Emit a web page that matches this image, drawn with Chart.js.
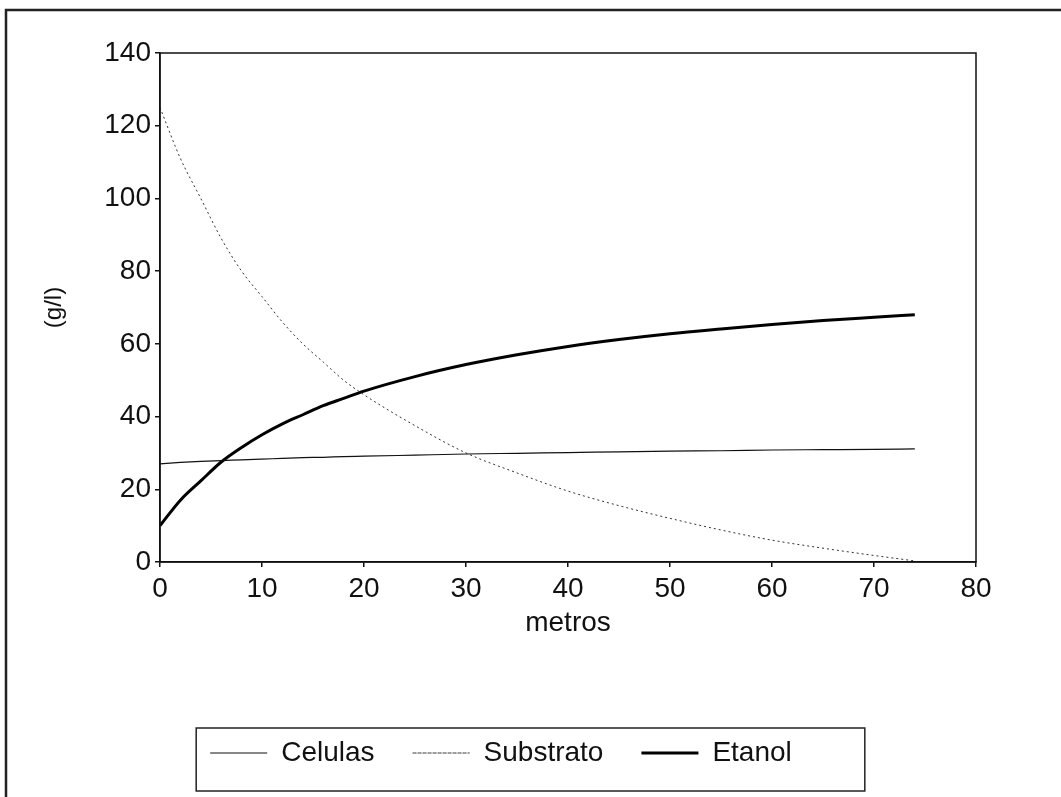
<!DOCTYPE html>
<html>
<head>
<meta charset="utf-8">
<script src="https://cdn.jsdelivr.net/npm/chart.js@4.4.1/dist/chart.umd.min.js"></script>
<style>
  html, body { margin: 0; padding: 0; background: #fff; }
  #wrap { width: 1061px; height: 797px; position: relative; }
</style>
</head>
<body>
<div id="wrap"><canvas id="c" width="1061" height="797"></canvas></div>
<script>
const metros    = [0, 2, 4, 6, 8, 10, 12, 14, 16, 18, 20, 25, 30, 35, 40, 45, 50, 55, 60, 65, 70, 74];
const celulas   = [27.0, 27.4, 27.7, 27.9, 28.1, 28.3, 28.5, 28.7, 28.8, 29.0, 29.1, 29.4, 29.7, 29.9, 30.1, 30.3, 30.5, 30.6, 30.8, 30.9, 31.0, 31.1];
const substrato = [125, 111, 100, 89, 80, 73, 66, 60, 55, 50, 46, 37.5, 30.0, 24.5, 19.5, 15.5, 12, 8.8, 6, 3.8, 1.8, 0.3];
const etanol    = [10, 17, 22.3, 27.5, 31.5, 35, 38, 40.5, 43, 45, 47, 51, 54.3, 57, 59.3, 61.2, 62.8, 64.1, 65.3, 66.4, 67.3, 68];
const seriesNames = ['Celulas', 'Substrato', 'Etanol'];
const xTicks = [0, 10, 20, 30, 40, 50, 60, 70, 80];
const yTicks = [0, 20, 40, 60, 80, 100, 120, 140];

const FONT = '"Liberation Sans", Arial, Helvetica, sans-serif';
const toPts = (ys) => metros.map((x, i) => ({x: x, y: ys[i]}));

const framePlugin = {
  id: 'frames',
  beforeDraw(chart) {
    const ctx = chart.ctx;
    ctx.save();
    ctx.fillStyle = '#fff';
    ctx.fillRect(0, 0, chart.width, chart.height);
    ctx.strokeStyle = '#222';
    ctx.lineWidth = 2.5;
    ctx.beginPath();
    ctx.moveTo(6, chart.height + 5);
    ctx.lineTo(6, 10);
    ctx.lineTo(chart.width + 5, 10);
    ctx.stroke();
    ctx.restore();
  },
  afterDatasetsDraw(chart) {
    const a = chart.chartArea, ctx = chart.ctx;
    ctx.save();
    ctx.strokeStyle = '#111';
    ctx.lineWidth = 1.5;
    ctx.strokeRect(a.left, a.top, a.right - a.left, a.bottom - a.top);
    ctx.restore();
  },
  afterDraw(chart) {
    const lg = chart.legend;
    if (!lg || !lg.legendHitBoxes || !lg.legendHitBoxes.length) return;
    const hb = lg.legendHitBoxes;
    const l = Math.min(...hb.map(h => h.left)) - 14;
    const r = Math.max(...hb.map(h => h.left + h.width)) + 73;
    const t = Math.min(...hb.map(h => h.top)) - 11;
    const b = Math.max(...hb.map(h => h.top + h.height)) + 24;
    const ctx = chart.ctx;
    ctx.save();
    ctx.strokeStyle = '#222';
    ctx.lineWidth = 1.5;
    ctx.strokeRect(l, t, r - l, b - t);
    ctx.restore();
  }
};

new Chart(document.getElementById('c'), {
  type: 'line',
  data: {
    datasets: [
      { label: seriesNames[0], data: toPts(celulas), borderColor: '#111', backgroundColor: 'rgba(0,0,0,0)', borderWidth: 1.2, pointRadius: 0, cubicInterpolationMode: 'monotone' },
      { label: seriesNames[1], data: toPts(substrato), borderColor: '#333', backgroundColor: 'rgba(0,0,0,0)', borderWidth: 1, borderDash: [2, 3], pointRadius: 0, cubicInterpolationMode: 'monotone' },
      { label: seriesNames[2], data: toPts(etanol), borderColor: '#000', backgroundColor: 'rgba(0,0,0,0)', borderWidth: 3, pointRadius: 0, cubicInterpolationMode: 'monotone' }
    ]
  },
  options: {
    responsive: false,
    animation: false,
    devicePixelRatio: 1,
    layout: { padding: { top: 53, right: 59, bottom: 20, left: 0 } },
    plugins: {
      tooltip: { enabled: false },
      legend: {
        display: true,
        position: 'bottom',
        labels: {
          boxWidth: 57,
          boxHeight: 0,
          padding: 38,
          color: '#111',
          font: { family: FONT, size: 28 }
        }
      }
    },
    scales: {
      x: {
        type: 'linear',
        min: 0, max: 80,
        afterBuildTicks: (s) => { s.ticks = xTicks.map(v => ({value: v})); },
        afterFit: (s) => { s.height = 139; s.paddingLeft = 0; s.paddingRight = 85; },
        grid: { display: true, drawOnChartArea: false, drawTicks: true, tickLength: 5, color: '#111', lineWidth: 1.5 },
        border: { display: true, color: '#111', width: 1.5 },
        ticks: { color: '#111', padding: 5, maxRotation: 0, font: { family: FONT, size: 28 } },
        title: { display: true, text: 'metros', color: '#111', font: { family: FONT, size: 28 }, padding: { top: 0, bottom: 61 } }
      },
      y: {
        type: 'linear',
        min: 0, max: 140,
        afterBuildTicks: (s) => { s.ticks = yTicks.map(v => ({value: v})); },
        afterFit: (s) => { s.width = 160; s.paddingTop = 0; s.paddingBottom = 0; },
        grid: { display: true, drawOnChartArea: false, drawTicks: true, tickLength: 5, color: '#111', lineWidth: 1.5 },
        border: { display: true, color: '#111', width: 1.5 },
        ticks: { color: '#111', padding: 4, font: { family: FONT, size: 28 } },
        title: { display: true, text: '(g/l)', color: '#111', font: { family: FONT, size: 24 }, padding: { top: 40, bottom: 0 } }
      }
    }
  },
  plugins: [framePlugin]
});
</script>
</body>
</html>
